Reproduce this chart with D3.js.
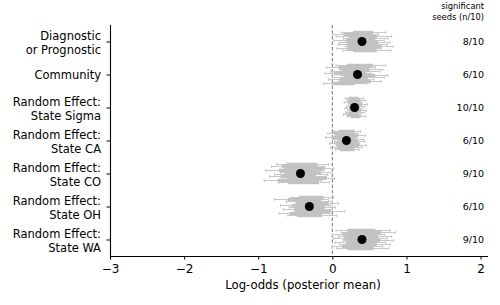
<!DOCTYPE html>
<html>
<head>
<meta charset="utf-8">
<script src="https://cdn.jsdelivr.net/npm/d3@7"></script>
<style>
  body { margin: 0; background: #fff; }
  text { font-family: "DejaVu Sans", sans-serif; }
</style>
</head>
<body>
<div class="chart"></div>
<script>
(function() {

  // row labels, top to bottom
  let categories = [
    "Diagnostic\nor Prognostic",
    "Community",
    "Random Effect:\nState Sigma",
    "Random Effect:\nState CA",
    "Random Effect:\nState CO",
    "Random Effect:\nState OH",
    "Random Effect:\nState WA"
  ];

  // posterior mean over all seeds (black dot)
  let means = [0.40, 0.34, 0.30, 0.19, -0.43, -0.31, 0.40];

  // significant seeds column
  let significant = ["8/10", "6/10", "10/10", "6/10", "9/10", "6/10", "9/10"];

  // per seed intervals: [lo, q1, q3, hi]
  let seedsDiagnostic = [
    [0.12, 0.28, 0.55, 0.72], [0.00, 0.15, 0.45, 0.62], [0.05, 0.22, 0.60, 0.80],
    [0.15, 0.30, 0.58, 0.75], [0.02, 0.18, 0.52, 0.70], [0.10, 0.25, 0.62, 0.78],
    [0.08, 0.20, 0.55, 0.74], [0.18, 0.32, 0.66, 0.82], [0.06, 0.20, 0.50, 0.66],
    [0.14, 0.28, 0.60, 0.79]
  ];
  let seedsCommunity = [
    [0.05, 0.20, 0.55, 0.72], [-0.08, 0.08, 0.40, 0.58], [0.10, 0.25, 0.50, 0.68],
    [-0.02, 0.12, 0.46, 0.64], [-0.10, 0.02, 0.35, 0.52], [0.12, 0.28, 0.58, 0.75],
    [0.00, 0.15, 0.48, 0.70], [-0.05, 0.10, 0.38, 0.56], [0.08, 0.22, 0.52, 0.66],
    [-0.12, 0.00, 0.30, 0.46]
  ];
  let seedsSigma = [
    [0.18, 0.22, 0.36, 0.42], [0.20, 0.25, 0.38, 0.45], [0.16, 0.21, 0.35, 0.40],
    [0.22, 0.26, 0.40, 0.47], [0.19, 0.24, 0.37, 0.44], [0.17, 0.22, 0.34, 0.41],
    [0.21, 0.26, 0.39, 0.46], [0.18, 0.23, 0.36, 0.43], [0.15, 0.20, 0.33, 0.39],
    [0.20, 0.25, 0.38, 0.45]
  ];
  let seedsCA = [
    [0.02, 0.08, 0.30, 0.38], [-0.06, 0.02, 0.26, 0.35], [0.05, 0.12, 0.34, 0.45],
    [-0.09, -0.01, 0.25, 0.34], [0.00, 0.08, 0.32, 0.42], [0.03, 0.10, 0.35, 0.44],
    [-0.04, 0.04, 0.28, 0.37], [0.06, 0.12, 0.36, 0.46], [-0.02, 0.06, 0.28, 0.40],
    [0.04, 0.10, 0.30, 0.36]
  ];
  let seedsCO = [
    [-0.75, -0.62, -0.20, -0.05], [-0.82, -0.68, -0.25, -0.10], [-0.65, -0.55, -0.10, 0.02],
    [-0.90, -0.72, -0.30, -0.12], [-0.70, -0.58, -0.15, -0.02], [-0.78, -0.65, -0.22, -0.06],
    [-0.85, -0.70, -0.28, -0.08], [-0.60, -0.50, -0.08, 0.03], [-0.92, -0.74, -0.32, -0.15],
    [-0.72, -0.60, -0.18, -0.04]
  ];
  let seedsOH = [
    [-0.55, -0.45, -0.12, 0.02], [-0.78, -0.60, -0.25, -0.05], [-0.62, -0.50, -0.15, 0.00],
    [-0.48, -0.38, -0.05, 0.08], [-0.70, -0.55, -0.22, -0.02], [-0.58, -0.46, -0.10, 0.04],
    [-0.66, -0.52, -0.18, 0.00], [-0.50, -0.40, -0.02, 0.17], [-0.72, -0.58, -0.20, -0.04],
    [-0.60, -0.48, -0.14, 0.06]
  ];
  let seedsWA = [
    [0.05, 0.20, 0.58, 0.78], [0.12, 0.28, 0.66, 0.85], [0.00, 0.14, 0.50, 0.70],
    [0.08, 0.22, 0.62, 0.80], [0.02, 0.16, 0.54, 0.74], [0.15, 0.30, 0.65, 0.82],
    [0.04, 0.18, 0.52, 0.72], [0.10, 0.25, 0.60, 0.78], [0.00, 0.13, 0.48, 0.68],
    [0.06, 0.20, 0.56, 0.76]
  ];
  let seedRows = [seedsDiagnostic, seedsCommunity, seedsSigma, seedsCA, seedsCO, seedsOH, seedsWA];

  let xTicks = [-3, -2, -1, 0, 1, 2];
  let xDomain = [-3, 2.1];

  let width = 500, height = 305;
  let left = 110, right = 488, top = 25, bottom = 256;

  let svg = d3.select('.chart').append('svg')
    .attr('width', width)
    .attr('height', height);

  let x = d3.scaleLinear().domain(xDomain).range([left, right]);
  let y = d3.scalePoint().domain(categories).range([top, bottom]).padding(0.5);
  let seedOffset = d3.scalePoint().domain(d3.range(10)).range([-9, 9]);

  // zero line
  svg.append('line')
    .attr('x1', x(0)).attr('x2', x(0))
    .attr('y1', top).attr('y2', bottom)
    .attr('stroke', '#808080')
    .attr('stroke-width', 1.1)
    .attr('stroke-dasharray', '3.5,2');

  // per seed intervals
  categories.forEach(function(cat, i) {
    let g = svg.append('g');
    let rows = seedRows[i].map((d, j) => ({ d: d, yy: y(cat) + seedOffset(j) }));

    g.selectAll('.thin').data(rows).enter().append('line')
      .attr('x1', (r) => x(r.d[0])).attr('x2', (r) => x(r.d[3]))
      .attr('y1', (r) => r.yy).attr('y2', (r) => r.yy)
      .attr('stroke', '#c8c8c8').attr('stroke-width', 1);

    ['0', '3'].forEach(function(k) {
      g.selectAll('.cap' + k).data(rows).enter().append('line')
        .attr('x1', (r) => x(r.d[+k])).attr('x2', (r) => x(r.d[+k]))
        .attr('y1', (r) => r.yy - 1.5).attr('y2', (r) => r.yy + 1.5)
        .attr('stroke', '#c8c8c8').attr('stroke-width', 1);
    });

    g.selectAll('.thick').data(rows).enter().append('line')
      .attr('x1', (r) => x(r.d[1])).attr('x2', (r) => x(r.d[2]))
      .attr('y1', (r) => r.yy).attr('y2', (r) => r.yy)
      .attr('stroke', '#c2c2c2').attr('stroke-width', 3.5);
  });

  // mean dots
  svg.selectAll('.dot').data(categories).enter().append('circle')
    .attr('cx', (d, i) => x(means[i]))
    .attr('cy', (d) => y(d))
    .attr('r', 4.5)
    .attr('fill', '#000');

  // x axis
  let xAxis = d3.axisBottom(x).tickValues(xTicks).tickSize(3.5).tickPadding(4.5)
    .tickFormat((d) => d < 0 ? '\u2212' + Math.abs(d) : d);
  let gx = svg.append('g')
    .attr('transform', 'translate(0,' + bottom + ')')
    .call(xAxis);
  gx.select('.domain').attr('d', 'M' + left + ',0.5H' + right).attr('stroke-width', 1.1);
  gx.selectAll('text').attr('font-size', 12).attr('fill', '#000').attr('font-family', 'DejaVu Sans');

  svg.append('text')
    .attr('x', (left + right) / 2 + 4)
    .attr('y', 289)
    .attr('text-anchor', 'middle')
    .attr('font-size', 11.7)
    .text('Log-odds (posterior mean)');

  // y axis
  let yAxis = d3.axisLeft(y).tickSize(3.5).tickPadding(5).tickFormat('');
  let gy = svg.append('g')
    .attr('transform', 'translate(' + left + ',0)')
    .call(yAxis);
  gy.select('.domain').attr('d', 'M0.5,' + top + 'V' + bottom).attr('stroke-width', 1.1);

  gy.selectAll('.tick').each(function(d) {
    let lines = d.split('\n');
    let t = d3.select(this).append('text')
      .attr('x', -9)
      .attr('text-anchor', 'end')
      .attr('fill', '#000')
      .attr('font-size', 11.5)
      .attr('font-family', 'DejaVu Sans');
    lines.forEach(function(line, k) {
      t.append('tspan')
        .attr('x', -9)
        .attr('y', lines.length === 1 ? 4 : (k === 0 ? -2 : 11.5))
        .text(line);
    });
  });

  // significant seeds column
  svg.selectAll('.sig').data(categories).enter().append('text')
    .attr('x', 484)
    .attr('y', (d) => y(d) + 3.5)
    .attr('text-anchor', 'end')
    .attr('font-size', 9.5)
    .text((d, i) => significant[i]);

  svg.append('text')
    .attr('x', 484).attr('y', 9)
    .attr('text-anchor', 'end').attr('font-size', 8.3)
    .text('significant');
  svg.append('text')
    .attr('x', 484).attr('y', 20)
    .attr('text-anchor', 'end').attr('font-size', 8.3)
    .text('seeds (n/10)');

})();
</script>
</body>
</html>
